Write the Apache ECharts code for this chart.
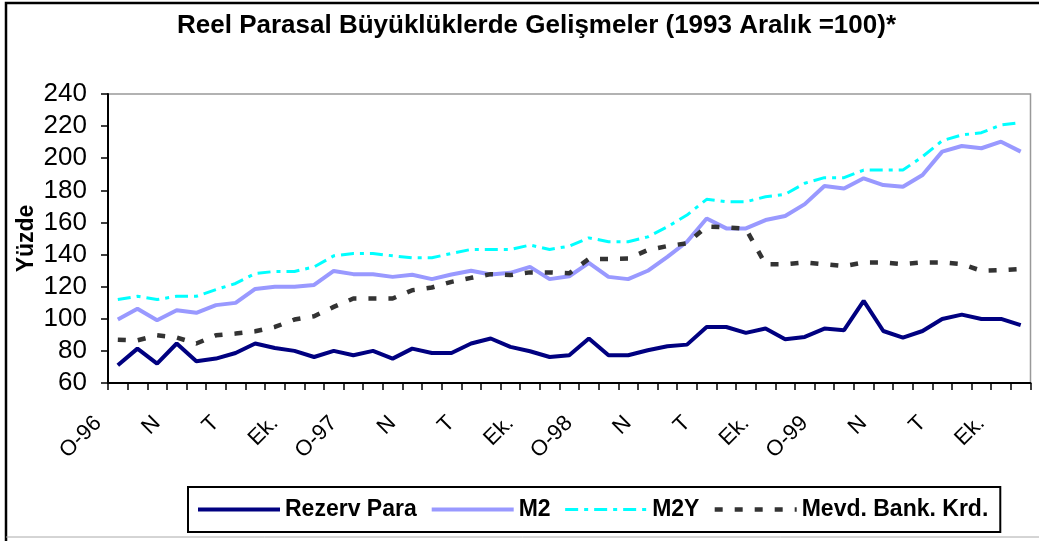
<!DOCTYPE html>
<html>
<head>
<meta charset="utf-8">
<script src="https://cdn.jsdelivr.net/npm/echarts@6/dist/echarts.min.js"></script>
<style>
  html, body { margin: 0; padding: 0; background: #fff; }
  #chart { width: 1039px; height: 541px; }
</style>
</head>
<body>
<div id="chart"></div>
<script>
// aylar: Ocak 1996 - Kasım 1999 (her 3 ayda bir etiket)
var months = ['O', 'Ş', 'M', 'N', 'M', 'H', 'T', 'A', 'E', 'Ek.', 'K', 'A']
var years = ['96', '97', '98', '99']
var categories = []
years.forEach(function (y) {
  months.forEach(function (m, i) {
    categories.push(i === 0 ? 'O-' + y : m)
  })
})
categories = categories.slice(0, 47)

var rezervPara = [71.0, 81.4, 72.1, 84.6, 73.5, 75.2, 78.7, 84.6, 81.8, 80.0, 76.2, 80.0,
  77.3, 80.0, 75.2, 81.4, 78.7, 78.7, 84.6, 87.7, 82.5, 79.8, 76.2, 77.3,
  87.7, 77.3, 77.3, 80.4, 82.9, 83.9, 94.9, 94.9, 91.2, 93.9, 87.3, 88.7,
  93.9, 92.9, 111.1, 92.4, 88.3, 92.4, 99.9, 102.6, 99.9, 99.9, 96.0]

var m2 = [99.5, 106.2, 99.1, 105.3, 103.7, 108.5, 109.9, 118.6, 119.9, 119.9, 121.1, 129.8,
  127.8, 127.7, 126.1, 127.4, 124.7, 127.6, 129.9, 127.6, 128.6, 132.3, 124.7, 126.5,
  134.8, 126.1, 124.7, 129.9, 138.6, 148.0, 162.5, 156.3, 156.3, 161.5, 164.0, 171.4,
  182.7, 181.2, 187.5, 183.3, 182.2, 189.5, 204.1, 207.6, 206.2, 210.3, 204.1]

var m2y = [112.0, 114.0, 112.0, 114.0, 114.0, 118.2, 122.0, 128.2, 129.5, 129.5, 132.3, 139.2,
  140.7, 140.7, 139.2, 138.0, 138.0, 140.7, 143.2, 143.2, 143.2, 145.9, 143.2, 145.2,
  150.4, 148.0, 148.0, 151.0, 157.3, 164.6, 174.4, 172.9, 172.9, 176.0, 177.5, 184.4,
  187.9, 187.9, 192.6, 192.6, 192.6, 201.0, 210.9, 214.5, 215.9, 220.7, 222.2]

var mevdBankKrd = [87.0, 86.6, 89.7, 88.3, 84.6, 89.7, 90.8, 92.2, 94.9, 99.5, 101.6, 107.4,
  112.6, 112.6, 112.6, 117.8, 119.5, 123.0, 125.5, 127.8, 127.2, 128.9, 128.9, 128.3,
  137.3, 137.3, 137.5, 142.8, 145.3, 147.0, 157.5, 157.0, 156.0, 134.0, 134.0, 135.1,
  134.0, 132.8, 135.1, 135.1, 134.0, 135.1, 135.1, 134.0, 129.9, 130.3, 131.0]

var fontFamily = 'Arial, "Liberation Sans", sans-serif'

var chart = echarts.init(document.getElementById('chart'), null, { renderer: 'canvas' })
var option = {
  backgroundColor: '#fff',
  animation: false,
  title: {
    text: 'Reel Parasal Büyüklüklerde Gelişmeler (1993 Aralık =100)*',
    left: 172,
    top: 8,
    textStyle: {
      fontFamily: fontFamily,
      fontSize: 26,
      fontWeight: 'bold',
      color: '#000'
    }
  },
  // dış çerçeve
  graphic: [
    {
      type: 'polyline',
      shape: { points: [[6, 541], [6, 3], [1039, 3]] },
      style: { stroke: '#000', lineWidth: 2.5, fill: null }
    },
    {
      type: 'line',
      shape: { x1: 6, y1: 537, x2: 1039, y2: 537 },
      style: { stroke: '#aaa', lineWidth: 1 }
    }
  ],
  legend: {
    left: 188,
    top: 487,
    padding: [11, 12, 11, 8],
    itemGap: 13,
    itemWidth: 82,
    itemHeight: 14,
    borderColor: '#000',
    borderWidth: 2,
    itemStyle: { opacity: 0 },
    lineStyle: { width: 'inherit' },
    textStyle: {
      fontFamily: fontFamily,
      fontSize: 23,
      fontWeight: 'bold',
      color: '#000'
    },
    data: ['Rezerv Para', 'M2', 'M2Y', 'Mevd. Bank. Krd.']
  },
  grid: {
    left: 108,
    right: 8.5,
    top: 94,
    bottom: 158,
    show: true,
    borderColor: '#999',
    borderWidth: 1.5
  },
  xAxis: {
    type: 'category',
    data: categories,
    boundaryGap: true,
    axisLine: { lineStyle: { color: '#000', width: 2 } },
    axisTick: { show: true, interval: 0, length: 7, lineStyle: { color: '#000', width: 1.5 } },
    axisLabel: {
      interval: 2,
      rotate: 45,
      margin: 17,
      padding: [0, 28, 0, 0],
      fontFamily: fontFamily,
      fontSize: 22,
      color: '#000'
    }
  },
  yAxis: {
    type: 'value',
    min: 60,
    max: 240,
    interval: 20,
    name: 'Yüzde',
    nameLocation: 'middle',
    nameGap: 70,
    nameMoveOverlap: false,
    nameTextStyle: {
      fontFamily: fontFamily,
      fontSize: 23,
      fontWeight: 'bold',
      color: '#000'
    },
    splitLine: { show: false },
    axisLine: { show: true, lineStyle: { color: '#000', width: 2 } },
    axisTick: { show: true, length: 7, lineStyle: { color: '#000', width: 1.5 } },
    axisLabel: {
      margin: 21,
      fontFamily: fontFamily,
      fontSize: 26,
      color: '#000'
    }
  },
  series: [
    {
      name: 'Rezerv Para',
      type: 'line',
      data: rezervPara,
      symbol: 'none',
      color: '#000080',
      lineStyle: { color: '#000080', width: 4 }
    },
    {
      name: 'M2',
      type: 'line',
      data: m2,
      symbol: 'none',
      color: '#9999ff',
      lineStyle: { color: '#9999ff', width: 4 }
    },
    {
      name: 'M2Y',
      type: 'line',
      data: m2y,
      symbol: 'none',
      color: '#00ffff',
      lineStyle: { color: '#00ffff', width: 3, type: [13, 6, 4, 6] }
    },
    {
      name: 'Mevd. Bank. Krd.',
      type: 'line',
      data: mevdBankKrd,
      symbol: 'none',
      color: '#333333',
      lineStyle: { color: '#333333', width: 4.5, type: [8, 12] }
    }
  ]
}
chart.setOption(option)
</script>
</body>
</html>
